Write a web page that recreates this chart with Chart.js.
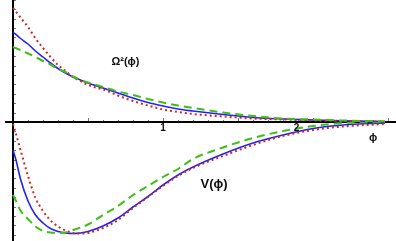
<!DOCTYPE html>
<html>
<head>
<meta charset="utf-8">
<script src="https://cdn.jsdelivr.net/npm/chart.js@4"></script>
<style>
  html, body { margin: 0; padding: 0; background: #fff; }
  #chart { display: block; }
</style>
</head>
<body>
<canvas id="chart" width="396" height="241"></canvas>
<script>
// phi grid for the Omega^2 curves and for the potential curves
const phiTop = [0, 0.05, 0.1, 0.15, 0.2, 0.25, 0.3, 0.35, 0.4, 0.45, 0.5, 0.6, 0.7, 0.8, 0.9, 1.0, 1.1, 1.2, 1.4, 1.6, 1.8, 2.0, 2.2, 2.48];
const phiV = [0, 0.02, 0.05, 0.1, 0.15, 0.2, 0.25, 0.3, 0.35, 0.4, 0.45, 0.5, 0.6, 0.7, 0.8, 0.9, 1.0, 1.1, 1.2, 1.4, 1.6, 1.8, 2.0, 2.2, 2.48];

// Omega^2(phi)
const omegaBlue = [0.90, 0.835, 0.78, 0.71, 0.65, 0.59, 0.535, 0.49, 0.45, 0.42, 0.39, 0.34, 0.29, 0.24, 0.195, 0.16, 0.13, 0.11, 0.075, 0.045, 0.03, 0.02, 0.012, 0.005];
const omegaRed = [1.14, 1.045, 0.95, 0.835, 0.74, 0.65, 0.57, 0.51, 0.45, 0.41, 0.37, 0.325, 0.265, 0.21, 0.165, 0.125, 0.10, 0.08, 0.055, 0.035, 0.025, 0.015, 0.01, 0.005];
const omegaGreen = [0.75, 0.72, 0.685, 0.65, 0.61, 0.575, 0.53, 0.50, 0.455, 0.42, 0.395, 0.35, 0.305, 0.27, 0.23, 0.195, 0.165, 0.14, 0.095, 0.06, 0.035, 0.025, 0.015, 0.005];

// V(phi)
const vBlue = [-0.28, -0.38, -0.57, -0.79, -0.93, -1.01, -1.065, -1.095, -1.11, -1.115, -1.11, -1.095, -1.04, -0.96, -0.85, -0.745, -0.63, -0.53, -0.45, -0.32, -0.21, -0.13, -0.065, -0.03, -0.01];
const vRed = [-0.02, -0.12, -0.28, -0.54, -0.76, -0.89, -0.985, -1.045, -1.085, -1.11, -1.115, -1.11, -1.06, -0.98, -0.86, -0.75, -0.64, -0.54, -0.46, -0.34, -0.23, -0.14, -0.08, -0.045, -0.02];
const vGreen = [-0.73, -0.79, -0.885, -0.97, -1.045, -1.09, -1.105, -1.11, -1.105, -1.08, -1.055, -1.025, -0.93, -0.84, -0.73, -0.64, -0.55, -0.47, -0.37, -0.255, -0.16, -0.09, -0.04, -0.01, 0];

// axis tick labels (the "2" sits a bit left of phi=2 in the original figure)
const xTickLabels = ["1", "2"];
const xTickValues = [1, 1.89];

const BLUE = "#2323f5";
const RED = "#cf2a1e";
const GREEN = "#3fbf14";

function pts(xs, ys) {
  return xs.map((x, i) => ({ x: x, y: ys[i] }));
}

function series(xs, ys, color, dash, width) {
  return {
    data: pts(xs, ys),
    borderColor: color,
    borderWidth: width,
    borderDash: dash,
    pointRadius: 0,
    showLine: true,
    fill: false,
    cubicInterpolationMode: "monotone",
  };
}

// draws the Mathematica-style axes, ticks and labels
const axesPlugin = {
  id: "axes",
  beforeDatasetsDraw(chart) {
    const c = chart.ctx;
    const xs = chart.scales.x;
    const ys = chart.scales.y;
    const x0 = xs.getPixelForValue(0);
    const y0 = ys.getPixelForValue(0);
    c.save();
    // minor ticks on x
    c.strokeStyle = "#777";
    c.lineWidth = 1;
    for (let k = 1; k <= 25; k++) {
      const px = Math.round(xs.getPixelForValue(k * 0.1)) + 0.5;
      const len = k % 5 === 0 ? 4 : 2;
      c.beginPath();
      c.moveTo(px, y0 - len);
      c.lineTo(px, y0);
      c.stroke();
    }
    // minor ticks on y
    for (let k = -12; k <= 13; k++) {
      if (k === 0) continue;
      const py = Math.round(ys.getPixelForValue(k * 0.094)) + 0.5;
      c.beginPath();
      c.moveTo(x0, py);
      c.lineTo(x0 + 3, py);
      c.stroke();
    }
    // axes
    c.strokeStyle = "#000";
    c.lineWidth = 2;
    c.beginPath();
    c.moveTo(5, y0);
    c.lineTo(chart.width, y0);
    c.moveTo(x0, 0);
    c.lineTo(x0, chart.height);
    c.stroke();
    c.restore();
  },
  afterDatasetsDraw(chart) {
    const c = chart.ctx;
    const xs = chart.scales.x;
    const ys = chart.scales.y;
    const y0 = ys.getPixelForValue(0);
    c.save();
    c.fillStyle = "#111";
    c.textAlign = "center";
    c.textBaseline = "middle";
    c.font = "bold 10px 'Liberation Sans', Arial, sans-serif";
    xTickValues.forEach((v, i) => {
      c.fillText(xTickLabels[i], xs.getPixelForValue(v), y0 + 6.5);
    });
    c.font = "bold 11px 'Liberation Sans', Arial, sans-serif";
    c.fillText("Ω²(ϕ)", xs.getPixelForValue(0.75), ys.getPixelForValue(0.6));
    c.font = "bold 13px 'Liberation Sans', Arial, sans-serif";
    c.fillText("V(ϕ)", xs.getPixelForValue(1.34), ys.getPixelForValue(-0.62));
    c.font = "bold 11px 'Liberation Sans', Arial, sans-serif";
    c.fillText("ϕ", xs.getPixelForValue(2.4), ys.getPixelForValue(-0.16));
    c.restore();
  },
};

new Chart(document.getElementById("chart"), {
  type: "scatter",
  data: {
    datasets: [
      series(phiTop, omegaGreen, GREEN, [8, 5], 2),
      series(phiTop, omegaRed, RED, [2, 3], 2),
      series(phiTop, omegaBlue, BLUE, [], 1.6),
      series(phiV, vGreen, GREEN, [8, 5], 2),
      series(phiV, vRed, RED, [2, 3], 2),
      series(phiV, vBlue, BLUE, [], 1.6),
    ],
  },
  options: {
    responsive: false,
    animation: false,
    layout: { padding: 0 },
    plugins: { legend: { display: false }, tooltip: { enabled: false } },
    scales: {
      x: { type: "linear", min: -13 / 150, max: 383 / 150, display: false },
      y: { type: "linear", min: -1.19, max: 1.22, display: false },
    },
  },
  plugins: [axesPlugin],
});
</script>
</body>
</html>
